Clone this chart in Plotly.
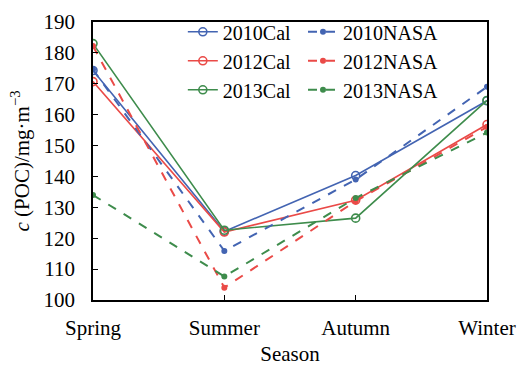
import plotly.graph_objects as go

seasons = ["Spring", "Summer", "Autumn", "Winter"]

cal_2010 = [174.3, 122.2, 140.3, 164.5]
cal_2012 = [170.7, 122.0, 132.3, 156.8]
cal_2013 = [183.0, 122.6, 126.5, 164.6]
nasa_2010 = [174.6, 115.9, 139.0, 169.0]
nasa_2012 = [182.2, 104.0, 132.0, 156.0]
nasa_2013 = [134.0, 107.6, 133.0, 154.2]

blue = "#4364B2"
red = "#EA4A47"
green = "#3E8C4C"

series = [
    ("2010Cal", cal_2010, blue, "cal"),
    ("2012Cal", cal_2012, red, "cal"),
    ("2013Cal", cal_2013, green, "cal"),
    ("2010NASA", nasa_2010, blue, "nasa"),
    ("2012NASA", nasa_2012, red, "nasa"),
    ("2013NASA", nasa_2013, green, "nasa"),
]

fig = go.Figure()
for name, vals, col, kind in series:
    if kind == "cal":
        fig.add_trace(go.Scatter(
            x=seasons, y=vals, name=name, mode="lines+markers", legend="legend",
            line=dict(color=col, width=1.6),
            marker=dict(symbol="circle-open", size=8, color=col, line=dict(width=1.6)),
        ))
    else:
        fig.add_trace(go.Scatter(
            x=seasons, y=vals, name=name, mode="lines+markers", legend="legend2",
            line=dict(color=col, width=2, dash="dash"),
            marker=dict(symbol="circle", size=6, color=col),
        ))

font = "Liberation Serif, Times New Roman, serif"
fs = 21
lfs = 20
leg_common = dict(
    orientation="v", yanchor="top", xanchor="left",
    bgcolor="rgba(0,0,0,0)", font=dict(family=font, size=lfs),
    tracegroupgap=0, itemwidth=30,
)
fig.update_layout(
    width=518, height=366,
    margin=dict(l=93, r=31, t=22, b=66, autoexpand=False),
    paper_bgcolor="white", plot_bgcolor="white",
    font=dict(family=font, size=fs, color="black"),
    showlegend=True,
    legend=dict(x=0.228, y=1.035, **leg_common),
    legend2=dict(x=0.533, y=1.035, **leg_common),
    xaxis=dict(
        type="category", range=[0, 3], automargin=False,
        showline=True, linecolor="black", linewidth=1.5, mirror=True,
        ticks="inside", ticklen=5, tickcolor="black",
        showgrid=False, zeroline=False,
        ticklabelstandoff=8,
        title=dict(text="Season", font=dict(size=fs), standoff=7),
        tickfont=dict(size=fs),
    ),
    yaxis=dict(
        range=[100, 190], dtick=10, automargin=False,
        showline=True, linecolor="black", linewidth=1.5, mirror=True,
        ticks="inside", ticklen=5, tickcolor="black",
        showgrid=False, zeroline=False,
        ticklabelstandoff=12,
        title=dict(text="<i>c</i> (POC)/mg·m<sup>−3</sup>", font=dict(size=fs), standoff=8),
        tickfont=dict(size=fs),
    ),
)

fig.write_html("out.html")
